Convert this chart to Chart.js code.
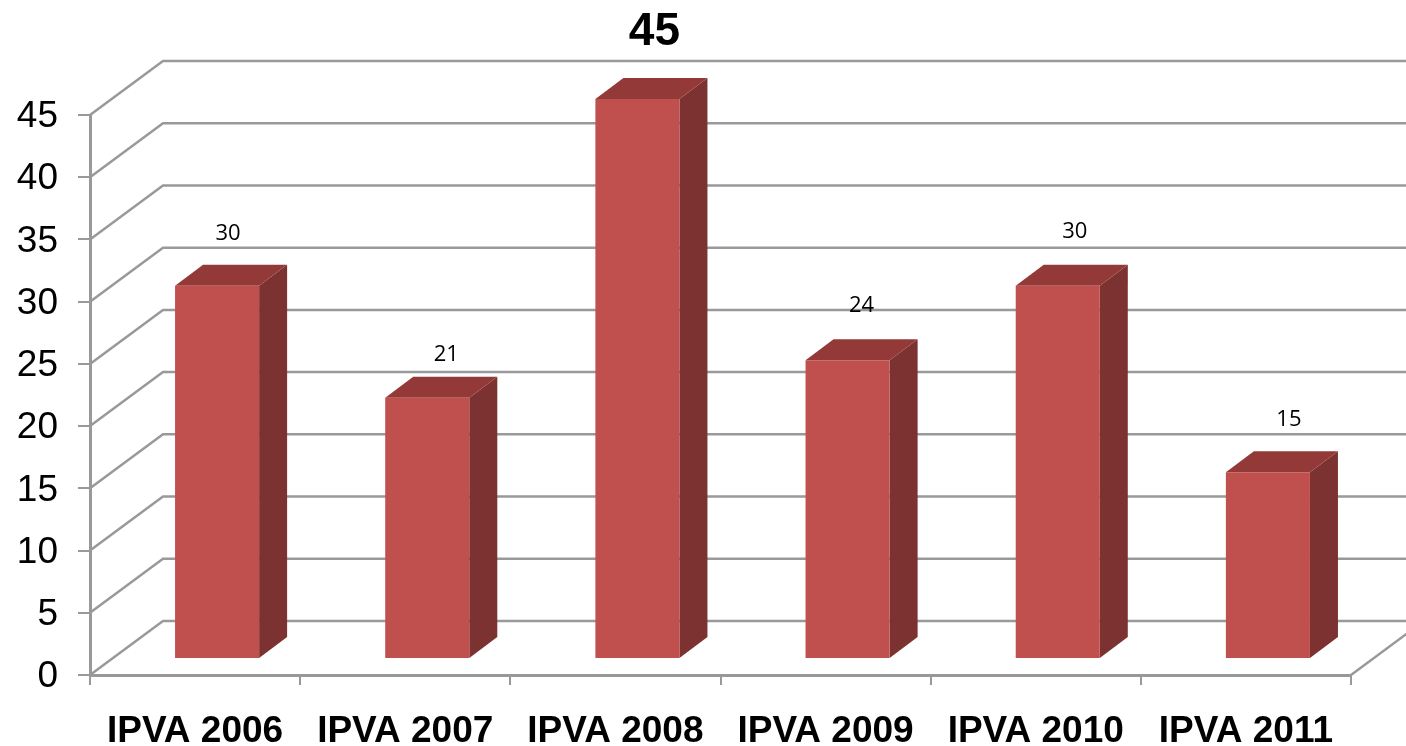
<!DOCTYPE html>
<html>
<head>
<meta charset="utf-8">
<style>
    html, body { margin: 0; padding: 0; background: #fff; }
    canvas { display: block; }
</style>
<script src="https://cdn.jsdelivr.net/npm/chart.js@4"></script>
</head>
<body>
<canvas id="chart" width="1406" height="746"></canvas>
<script>
    const categories = ['IPVA 2006', 'IPVA 2007', 'IPVA 2008', 'IPVA 2009', 'IPVA 2010', 'IPVA 2011'];
    const values = [30, 21, 45, 24, 30, 15];
    const yTicks = [0, 5, 10, 15, 20, 25, 30, 35, 40, 45];

    const gridColor = '#999999';
    const barFront = '#c0504d';
    const barTop = '#933a38';
    const barSide = '#7b3230';

    // the fake depth of the old 3D chart
    const wallDx = 73, wallDy = -54;
    const barDx = 22, barDy = -16;
    const depthDx = 28, depthDy = -21;
    // labels sit a bit off the bars in the original
    const labelDx = [11, 19, 17, 14, 17, 21];
    const labelDy = [-52, -43, -67, -55, -54, -53];

    function poly(ctx, pts, fill) {
        ctx.beginPath();
        pts.forEach((p, i) => i ? ctx.lineTo(p[0], p[1]) : ctx.moveTo(p[0], p[1]));
        ctx.closePath();
        ctx.fillStyle = fill;
        ctx.fill();
    }

    const depthPlugin = {
        id: 'depth',
        beforeDatasetsDraw(chart) {
            const ctx = chart.ctx;
            const y = chart.scales.y;
            const left = chart.chartArea.left, right = chart.chartArea.right;

            // back wall lines
            ctx.save();
            ctx.strokeStyle = gridColor;
            ctx.lineWidth = 2.5;
            yTicks.forEach(t => {
                const py = y.getPixelForValue(t);
                ctx.beginPath();
                ctx.moveTo(left, py);
                ctx.lineTo(left + wallDx, py + wallDy);
                ctx.lineTo(chart.width, py + wallDy);
                ctx.stroke();
            });
            // floor edge on the right
            const py0 = y.getPixelForValue(0);
            ctx.beginPath();
            ctx.moveTo(right, py0);
            ctx.lineTo(right + wallDx, py0 + wallDy);
            ctx.stroke();
            ctx.restore();

            // top and side of each bar
            chart.getDatasetMeta(0).data.forEach(bar => {
                const p = bar.getProps(['x', 'y', 'base', 'width'], true);
                const x0 = p.x - p.width / 2 + barDx, x1 = p.x + p.width / 2 + barDx;
                const yt = p.y + barDy, yb = p.base + barDy;
                poly(ctx, [[x1, yt], [x1 + depthDx, yt + depthDy], [x1 + depthDx, yb + depthDy], [x1, yb]], barSide);
                poly(ctx, [[x0, yt], [x0 + depthDx, yt + depthDy], [x1 + depthDx, yt + depthDy], [x1, yt]], barTop);
            });

            ctx.save();
            ctx.translate(barDx, barDy);
        },
        afterDatasetsDraw(chart) {
            const ctx = chart.ctx;
            ctx.restore();

            // value labels, the biggest one is bold
            const top = Math.max(...values);
            ctx.save();
            ctx.textAlign = 'center';
            ctx.textBaseline = 'middle';
            ctx.fillStyle = '#000';
            chart.getDatasetMeta(0).data.forEach((bar, i) => {
                ctx.font = values[i] === top
                    ? 'bold 46px "Liberation Sans"'
                    : '22px "Open Sans"';
                ctx.fillText(String(values[i]), bar.x + barDx + labelDx[i], bar.y + barDy + labelDy[i]);
            });
            ctx.restore();
        }
    };

    new Chart(document.getElementById('chart').getContext('2d'), {
        type: 'bar',
        data: {
            labels: categories,
            datasets: [{
                data: values,
                backgroundColor: barFront,
                borderWidth: 0,
                categoryPercentage: 1,
                barPercentage: 0.4,
                clip: false
            }]
        },
        options: {
            responsive: false,
            animation: false,
            layout: {
                autoPadding: false,
                padding: { top: 115, right: 55, left: 0, bottom: 0 }
            },
            plugins: {
                legend: { display: false },
                tooltip: { enabled: false }
            },
            scales: {
                x: {
                    afterFit: s => { s.height = 71; },
                    border: { color: gridColor, width: 3 },
                    grid: { drawOnChartArea: false, color: gridColor, lineWidth: 2, tickLength: 10 },
                    ticks: {
                        color: '#000',
                        font: { family: '"Liberation Sans"', size: 37, weight: 'bold' },
                        padding: 25,
                        maxRotation: 0,
                        autoSkip: false
                    }
                },
                y: {
                    min: 0,
                    max: 45,
                    afterFit: s => { s.width = 90; },
                    afterBuildTicks: s => { s.ticks = yTicks.map(v => ({ value: v })); },
                    border: { color: gridColor, width: 3 },
                    grid: { drawOnChartArea: false, color: gridColor, lineWidth: 2, tickLength: 12 },
                    ticks: {
                        color: '#000',
                        font: { family: '"Liberation Sans"', size: 37 },
                        padding: 20,
                        labelOffset: 2
                    }
                }
            }
        },
        plugins: [depthPlugin]
    });
</script>
</body>
</html>
